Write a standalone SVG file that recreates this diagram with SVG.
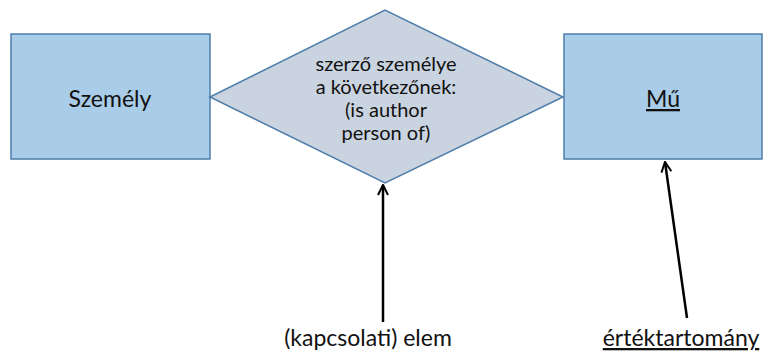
<svg xmlns="http://www.w3.org/2000/svg" width="763" height="354" viewBox="0 0 763 354">
<style>
.ent{fill:#A9CDE8;stroke:#4E7EAA;stroke-width:1.5}
.rel{fill:#CAD4E0;stroke:#4E7EAA;stroke-width:1.5}
text{font-family:Lato,"Open Sans","Liberation Sans",sans-serif;font-size:23px;fill:#111;text-anchor:middle}
.dt{font-size:20px}
.con{stroke:#000;stroke-width:2.5;fill:none}
</style>
<defs>
<marker id="arr" viewBox="0 0 12 12" refX="11" refY="6" markerWidth="12" markerHeight="12" markerUnits="userSpaceOnUse" orient="auto">
<path d="M1,1 L11,6 L1,11" fill="none" stroke="#000" stroke-width="2"/>
</marker>
</defs>
<rect width="763" height="354" fill="#fff"/>
<g id="szemely">
<rect class="ent" x="11" y="34" width="199" height="125"/>
<text x="110" y="107">Személy</text>
</g>
<g id="kapcsolat">
<polygon class="rel" points="210,97 385,10 563,97 385,183"/>
<text class="dt" x="386" y="71">szerző személye</text>
<text class="dt" x="386" y="94">a következőnek:</text>
<text class="dt" x="386" y="117">(is author</text>
<text class="dt" x="386" y="140">person of)</text>
</g>
<g id="mu">
<rect class="ent" x="564" y="34" width="198" height="125"/>
<text x="663" y="107" text-decoration="underline">Mű</text>
</g>
<g id="label-elem">
<text x="368" y="346">(kapcsolati) elem</text>
</g>
<g id="label-ertek">
<text x="681" y="346" text-decoration="underline">értéktartomány</text>
</g>
<g id="connectors">
<line class="con" x1="383" y1="322" x2="383" y2="185" marker-end="url(#arr)"/>
<line class="con" x1="687" y1="318" x2="665" y2="162" marker-end="url(#arr)"/>
</g>
</svg>
